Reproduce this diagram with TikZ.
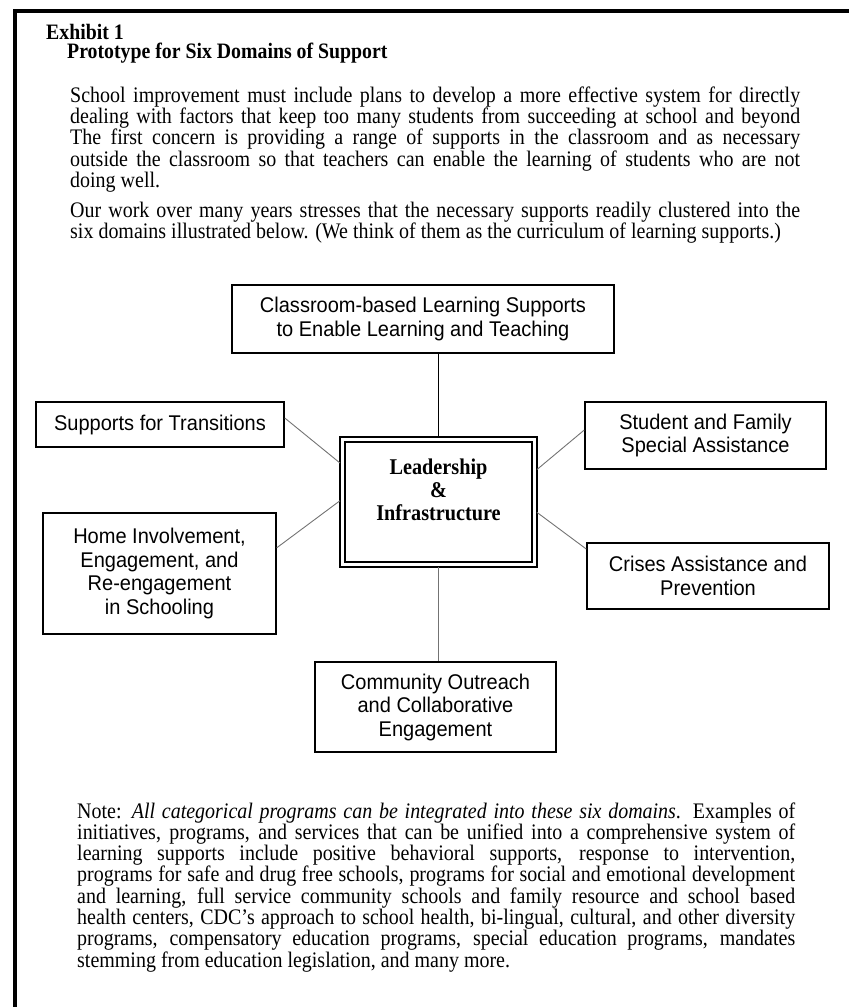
\documentclass[tikz,border=0pt]{standalone}
\usepackage{fontspec}
\setmainfont{Liberation Serif}[FakeStretch=0.9]
\setsansfont{Liberation Sans}[FakeStretch=0.94]
\usetikzlibrary{calc}

\definecolor{spokegray}{gray}{0.45}
\lineskiplimit=-50pt

\begin{document}
\begin{tikzpicture}[x=1pt, y=-1pt,
        domainbox/.style={draw, line width=1.5pt, align=center, inner sep=0pt,
            font=\sffamily\fontsize{21.3}{23.5}\selectfont},
        spoke/.style={spokegray, line width=0.9pt},
        heading/.style={anchor=base west, inner sep=0pt,
            font=\bfseries\fontsize{22}{19}\selectfont},
        para/.style={anchor=base west, inner sep=0pt, align=justify,
            font=\fontsize{22.2}{19.6}\selectfont}]
            \useasboundingbox (0,0) rectangle (849,1007);

            % frame
            \draw[line width=4pt] (15.3,1007) -- (15.3,11.3) -- (849,11.3);

            \node[heading] (exhibit) at (46,39) {Exhibit 1};
            \node[heading] (title) at (67,58) {Prototype for Six Domains of Support};

            \node[para, text width=730pt] (intro) at (70,102) {School improvement must include plans to develop a more effective system for directly\linebreak
            dealing with factors that keep too many students from succeeding at school and beyond\linebreak
            The first concern is providing a range of supports in the classroom and as necessary\linebreak
            outside the classroom so that teachers can enable the learning of students who are not\linebreak
            doing well.};
            \node[para, text width=730pt] (clusters) at (70,217) {Our work over many years stresses that the necessary supports readily clustered into the\linebreak
            six domains illustrated below. (We think of them as the curriculum of learning supports.)};

            % six domains
            \node[domainbox, minimum width=382pt, minimum height=68pt] (classroom) at (423,319) {Classroom-based Learning Supports\\to Enable Learning and Teaching};
            \node[domainbox, minimum width=248pt, minimum height=45pt] (transitions) at (160,424.5) {Supports for Transitions};
            \node[domainbox, minimum width=233pt, minimum height=121pt] (home) at (159.5,573.5) {Home Involvement,\\Engagement, and\\Re-engagement\\in Schooling};
            \node[domainbox, minimum width=241pt, minimum height=67pt] (family) at (705.5,435.5) {Student and Family\\Special Assistance};
            \node[domainbox, minimum width=242pt, minimum height=66pt] (crises) at (708,576) {Crises Assistance and\\Prevention};
            \node[domainbox, minimum width=241pt, minimum height=90pt] (community) at (435.5,707) {Community Outreach\\and Collaborative\\Engagement};

            \node[draw, line width=1.5pt, double, double distance=3.5pt, outer sep=2.5pt,
                minimum width=192pt, minimum height=125pt,
                label={[align=center, inner sep=0pt, yshift=12pt,
                    font=\bfseries\fontsize{22.5}{23}\selectfont]center:Leadership\\\&\\Infrastructure}]
                (lead) at (438.5,502) {};

            \draw[line width=1.5pt] (lead.north) -- (lead.north |- classroom.south);
            \draw[spoke] (lead.south) -- (lead.south |- community.north);
            \draw[spoke] ($(transitions.north east)!0.36!(transitions.south east)$) -- ($(lead.north west)!0.2!(lead.south west)$);
            \draw[spoke] ($(home.north east)!0.29!(home.south east)$) -- ($(lead.north west)!0.49!(lead.south west)$);
            \draw[spoke] ($(family.north west)!0.42!(family.south west)$) -- ($(lead.north east)!0.25!(lead.south east)$);
            \draw[spoke] ($(crises.north west)!0.1!(crises.south west)$) -- ($(lead.north east)!0.58!(lead.south east)$);

            \node[para, text width=718pt] (note) at (77,818) {Note: \textit{All categorical programs can be integrated into these six domains}. Examples of\linebreak
            initiatives, programs, and services that can be unified into a comprehensive system of\linebreak
            learning supports include positive behavioral supports, response to intervention,\linebreak
            programs for safe and drug free schools, programs for social and emotional development\linebreak
            and learning, full service community schools and family resource and school based\linebreak
            health centers, CDC’s approach to school health, bi-lingual, cultural, and other diversity\linebreak
            programs, compensatory education programs, special education programs, mandates\linebreak
            stemming from education legislation, and many more.};
        \end{tikzpicture}
\end{document}
